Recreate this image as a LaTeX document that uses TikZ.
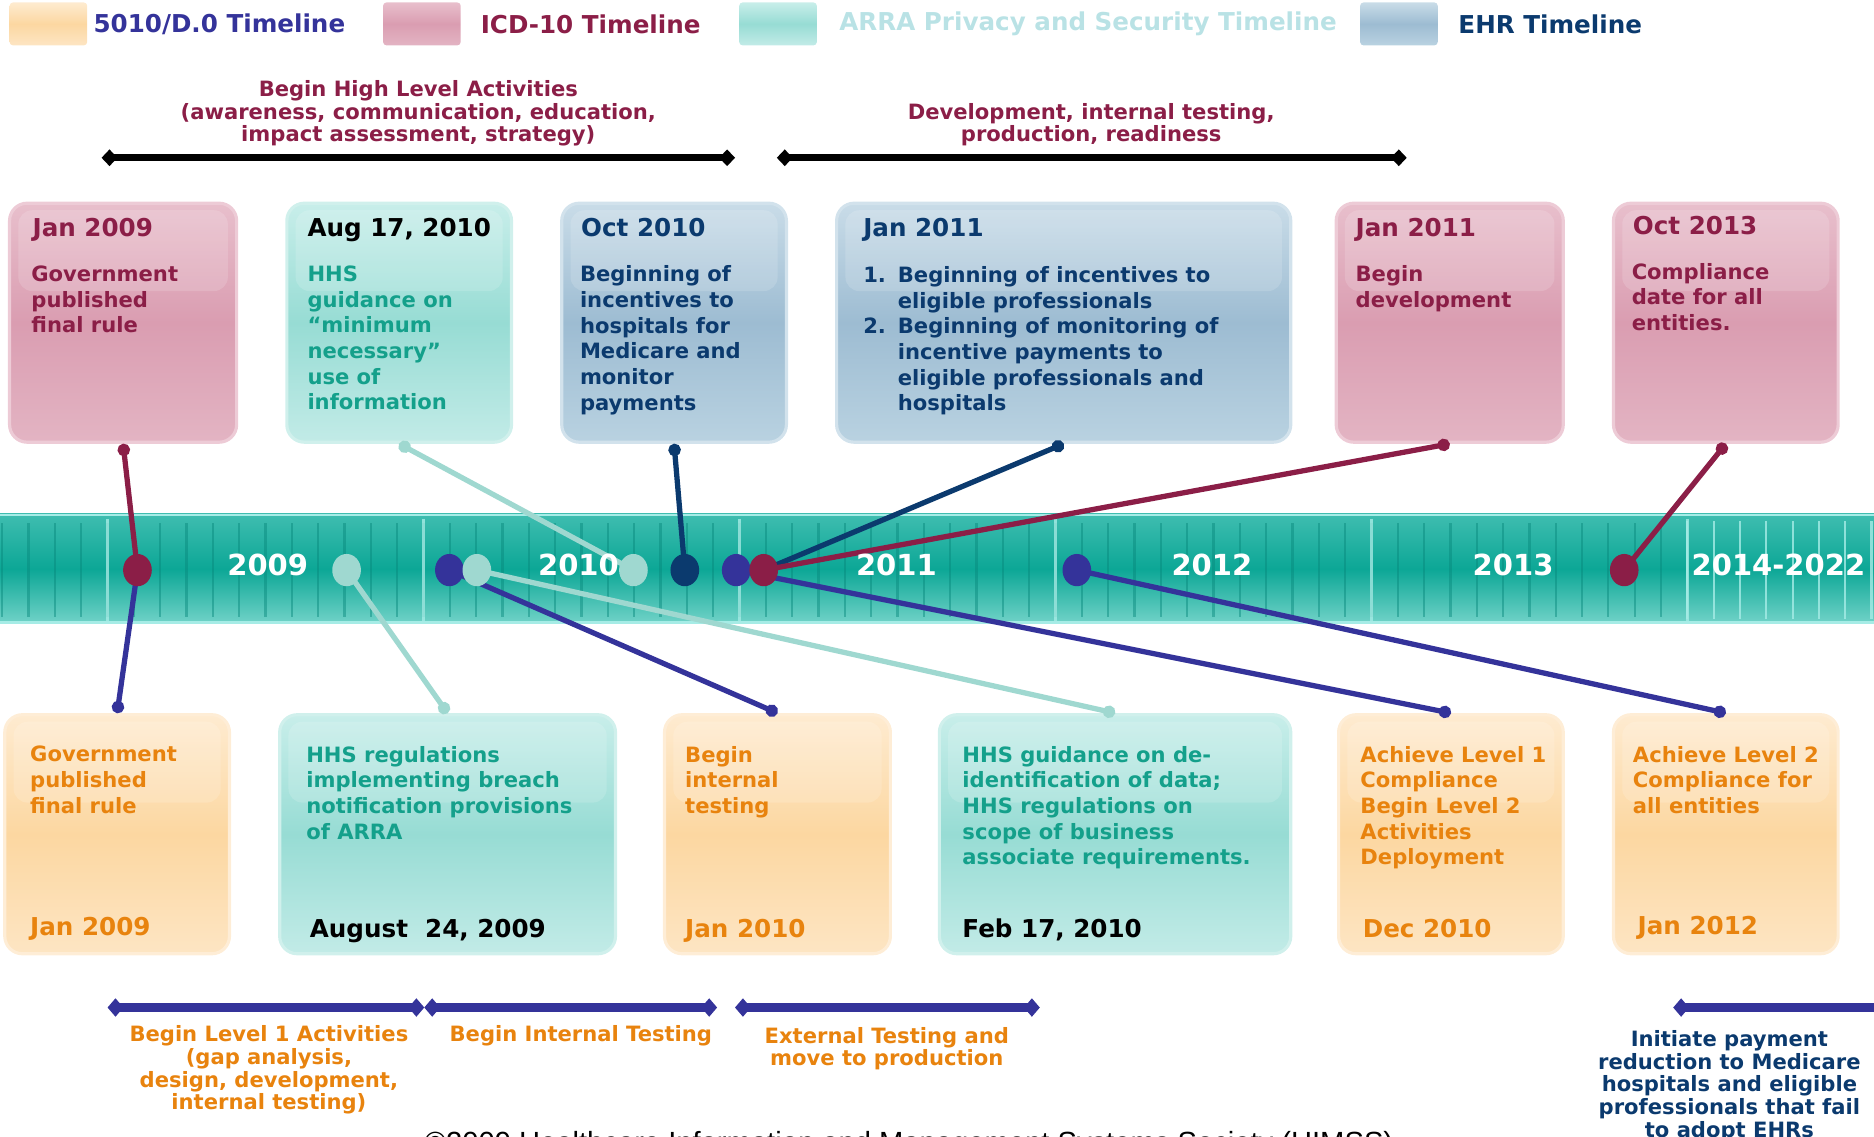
\documentclass[tikz,border=0pt]{standalone}
\usepackage{fontspec}
\setmainfont{DejaVu Sans}
\newfontfamily\notefont{Liberation Sans}
\usetikzlibrary{arrows.meta,shapes.geometric,positioning}

\newcommand{\upx}{0.0239cm}

\definecolor{icdred}{HTML}{8B1E47}
\definecolor{icdtop}{HTML}{E8BFCC}
\definecolor{icdmid}{HTML}{DA9DB1}
\definecolor{icdbot}{HTML}{E3B4C3}
\definecolor{icdedge}{HTML}{EDCBD6}
\definecolor{arrateal}{HTML}{14A08B}
\definecolor{arratop}{HTML}{C8EEEA}
\definecolor{arramid}{HTML}{97DCD4}
\definecolor{arrabot}{HTML}{C2EBE7}
\definecolor{arraedge}{HTML}{D0F0EC}
\definecolor{arradot}{HTML}{9FD8D0}
\definecolor{arralegend}{HTML}{B9E2E5}
\definecolor{ehrnavy}{HTML}{0B3A6E}
\definecolor{ehrtop}{HTML}{C9DCE8}
\definecolor{ehrmid}{HTML}{9DBCD2}
\definecolor{ehrbot}{HTML}{B9D2E1}
\definecolor{ehredge}{HTML}{D2E2EC}
\definecolor{fivblue}{HTML}{34339A}
\definecolor{fivorange}{HTML}{E8830E}
\definecolor{fivtop}{HTML}{FEEBD0}
\definecolor{fivmid}{HTML}{FCD7A1}
\definecolor{fivbot}{HTML}{FDE5C3}
\definecolor{fivedge}{HTML}{FEEDD6}
\definecolor{bartop}{HTML}{3FBDB0}
\definecolor{barmid}{HTML}{0CA796}
\definecolor{barbot}{HTML}{72D3C8}
\definecolor{barline}{HTML}{A6ECE6}
\definecolor{stripedark}{HTML}{07877B}

\pgfdeclarelayer{bg}
\pgfdeclarelayer{lines}
\pgfsetlayers{bg,lines,main}

\tikzset{
  evbox/.style={rectangle, rounded corners=10pt, minimum height=200*\upx, inner sep=0pt, line width=1.8pt,
    path picture={\fill[white,opacity=.15,rounded corners=8pt]
      ([xshift=5pt,yshift=-4pt]path picture bounding box.north west) rectangle
      ([xshift=-5pt,yshift=-50pt]path picture bounding box.north east);}},
  icdfill/.style={top color=icdtop, bottom color=icdbot, middle color=icdmid},
  arrafill/.style={top color=arratop, bottom color=arrabot, middle color=arramid},
  ehrfill/.style={top color=ehrtop, bottom color=ehrbot, middle color=ehrmid},
  fivfill/.style={top color=fivtop, bottom color=fivbot, middle color=fivmid},
  icdbox/.style={evbox, draw=icdedge, icdfill},
  arrabox/.style={evbox, draw=arraedge, arrafill},
  ehrbox/.style={evbox, draw=ehredge, ehrfill},
  fivbox/.style={evbox, draw=fivedge, fivfill},
  swatch/.style={rectangle, rounded corners=2pt, minimum width=65*\upx, minimum height=36*\upx, inner sep=0pt},
  legendtxt/.style={anchor=west, inner sep=0pt, font=\bfseries\fontsize{14}{16}\selectfont},
  datetxt/.style={anchor=base west, inner sep=0pt, font=\bfseries\fontsize{14}{16}\selectfont},
  bodytxt/.style={anchor=north west, align=left, inner sep=0pt, font=\bfseries\fontsize{12}{14.6}\selectfont},
  spantxt/.style={anchor=north, align=center, inner sep=0pt, font=\bfseries\fontsize{12}{12.9}\selectfont},
  yeartxt/.style={inner sep=0pt, text=white, font=\bfseries\fontsize{16.5}{18}\selectfont},
  evdot/.style={ellipse, minimum width=24*\upx, minimum height=27*\upx, inner sep=0pt},
  conn/.style={line width=3pt, {Circle[length=7pt]}-},
  topspan/.style={line width=3.8pt, black, {Diamond[length=9pt,width=9.5pt]}-{Diamond[length=9pt,width=9.5pt]}},
  lowspan/.style={line width=4.6pt, fivblue, {Diamond[length=9pt,width=10.5pt]}-{Diamond[length=9pt,width=10.5pt]}}
}

\begin{document}
\begin{tikzpicture}[x=\upx, y=-\upx]
\useasboundingbox (0,0) rectangle (1568,951);
\clip (0,0) rectangle (1568,951);

\node[swatch, fivfill] (lgfiv) at (40.5,20) {};
\node[legendtxt, fivblue] (lgfivtxt) at (78,20) {5010/D.0 Timeline};
\node[swatch, icdfill] (lgicd) at (353,20) {};
\node[legendtxt, icdred] (lgicdtxt) at (402,20) {ICD-10 Timeline};
\node[swatch, arrafill] (lgarra) at (651,20) {};
\node[legendtxt, arralegend] (lgarratxt) at (702,20) {ARRA Privacy and Security Timeline};
\node[swatch, ehrfill] (lgehr) at (1170.5,20) {};
\node[legendtxt, ehrnavy] (lgehrtxt) at (1220,20) {EHR Timeline};

\node[spantxt, icdred] (hilvl) at (350,67) {Begin High Level Activities\\(awareness, communication, education,\\impact assessment, strategy)};
\coordinate (hilvlL) at (85,132);
\coordinate (hilvlR) at (615,132);
\draw[topspan] (hilvlL) -- (hilvlR);
\node[spantxt, icdred] (devlbl) at (913,86) {Development, internal testing,\\production, readiness};
\coordinate (devL) at (650,132);
\coordinate (devR) at (1177,132);
\draw[topspan] (devL) -- (devR);

\begin{pgfonlayer}{bg}
\fill[top color=bartop, bottom color=barbot, middle color=barmid] (0,430) rectangle (1568,522);
\foreach \k in {-4,...,59}
  \draw[stripedark, opacity=.45, line width=1.3pt] ({90+\k*22.03},438) -- ({90+\k*22.03},516);
\foreach \k in {60,...,67}
  \draw[barline, opacity=.8, line width=1.3pt] ({90+\k*22.03},436) -- ({90+\k*22.03},518);
\foreach \k in {0,...,5}
  \draw[barline, opacity=.8, line width=1.5pt] ({90+\k*264.36},434) -- ({90+\k*264.36},520);
\draw[barline, line width=1.5pt] (0,431) -- (1568,431);
\draw[barline, line width=2pt] (0,521) -- (1568,521);

\node[icdbox, minimum width=190*\upx] (t1) at (103,270) {};
\node[arrabox, minimum width=188*\upx] (t2) at (334,270) {};
\node[ehrbox, minimum width=188*\upx] (t3) at (564,270) {};
\node[ehrbox, minimum width=380*\upx] (t4) at (890,270) {};
\node[icdbox, minimum width=190*\upx] (t5) at (1213,270) {};
\node[icdbox, minimum width=188*\upx] (t6) at (1444,270) {};

\node[fivbox, minimum width=188*\upx] (b1) at (98,698) {};
\node[arrabox, minimum width=281*\upx] (b2) at (374.5,698) {};
\node[fivbox, minimum width=189*\upx] (b3) at (650.5,698) {};
\node[arrabox, minimum width=294*\upx] (b4) at (933,698) {};
\node[fivbox, minimum width=188*\upx] (b5) at (1214,698) {};
\node[fivbox, minimum width=188*\upx] (b6) at (1444,698) {};
\end{pgfonlayer}

\node[datetxt, icdred] (t1date) at (27,198) {Jan 2009};
\node[bodytxt, icdred] (t1body) at (26,222) {Government\\published\\final rule};
\node[datetxt, black] (t2date) at (257,198) {Aug 17, 2010};
\node[bodytxt, arrateal] (t2body) at (257,222) {HHS\\guidance on\\“minimum\\necessary”\\use of\\information};
\node[datetxt, ehrnavy] (t3date) at (486,198) {Oct 2010};
\node[bodytxt, ehrnavy] (t3body) at (485,222) {Beginning of\\incentives to\\hospitals for\\Medicare and\\monitor\\payments};
\node[datetxt, ehrnavy] (t4date) at (722,198) {Jan 2011};
\node[bodytxt, ehrnavy] (t4body) at (722,221) {\begin{tabular}{@{}p{19.7pt}@{}l@{}}1. & Beginning of incentives to\\ & eligible professionals\\2. & Beginning of monitoring of\\ & incentive payments to\\ & eligible professionals and\\ & hospitals\end{tabular}};
\node[datetxt, icdred] (t5date) at (1134,198) {Jan 2011};
\node[bodytxt, icdred] (t5body) at (1134,222) {Begin\\development};
\node[datetxt, icdred] (t6date) at (1366,196) {Oct 2013};
\node[bodytxt, icdred] (t6body) at (1365,220) {Compliance\\date for all\\entities.};

\node[bodytxt, fivorange] (b1body) at (25,624) {Government\\published\\final rule};
\node[datetxt, fivorange] (b1date) at (25,783) {Jan 2009};
\node[bodytxt, arrateal] (b2body) at (256,624) {HHS regulations\\implementing breach\\notification provisions\\of ARRA};
\node[datetxt, black] (b2date) at (259,784) {August\ \ 24, 2009};
\node[bodytxt, fivorange] (b3body) at (573,624) {Begin\\internal\\testing};
\node[datetxt, fivorange] (b3date) at (573,784) {Jan 2010};
\node[bodytxt, arrateal] (b4body) at (805,624) {HHS guidance on de-\\identification of data;\\HHS regulations on\\scope of business\\associate requirements.};
\node[datetxt, black] (b4date) at (805,784) {Feb 17, 2010};
\node[bodytxt, fivorange] (b5body) at (1138,624) {Achieve Level 1\\Compliance\\Begin Level 2\\Activities\\Deployment};
\node[datetxt, fivorange] (b5date) at (1140,784) {Dec 2010};
\node[bodytxt, fivorange] (b6body) at (1366,624) {Achieve Level 2\\Compliance for\\all entities};
\node[datetxt, fivorange] (b6date) at (1370,782) {Jan 2012};

\node[evdot, fill=icdred] (dA) at (115,477) {};
\node[evdot, fill=arradot] (dB) at (290,477) {};
\node[evdot, fill=fivblue] (dC) at (376,477) {};
\node[evdot, fill=arradot] (dD) at (399,477) {};
\node[evdot, fill=arradot] (dE) at (530,477) {};
\node[evdot, fill=ehrnavy] (dF) at (573,477) {};
\node[evdot, fill=fivblue] (dG) at (616,477) {};
\node[evdot, fill=icdred] (dH) at (639,477) {};
\node[evdot, fill=fivblue] (dI) at (901,477) {};
\node[evdot, fill=icdred] (dJ) at (1359,477) {};

\begin{pgfonlayer}{lines}
\draw[conn, icdred] (t1.south) -- (dA.center);
\draw[conn, arradot] (t2.south) -- (dE.center);
\draw[conn, ehrnavy] (t3.south) -- (dF.center);
\draw[conn, ehrnavy] (t4.south) -- (dH.center);
\draw[conn, icdred] (t5.south) -- (dH.center);
\draw[conn, icdred] (t6.south) -- (dJ.center);
\draw[conn, fivblue] (b1.north) -- (dA.center);
\draw[conn, arradot] (b2.north) -- (dB.center);
\draw[conn, fivblue] (b3.north) -- (dC.center);
\draw[conn, arradot] (b4.north) -- (dD.center);
\draw[conn, fivblue] (b5.north) -- (dG.center);
\draw[conn, fivblue] (b6.north) -- (dI.center);
\end{pgfonlayer}

\node[yeartxt] (y2009) at (224,473) {2009};
\node[yeartxt] (y2010) at (484,473) {2010};
\node[yeartxt] (y2011) at (750,473) {2011};
\node[yeartxt] (y2012) at (1014,473) {2012};
\node[yeartxt] (y2013) at (1266,473) {2013};
\node[yeartxt] (y2014) at (1488,473) {2014-2022};

\coordinate (lvl1L) at (90,843);
\coordinate (lvl1R) at (355,843);
\coordinate (intR) at (600,843);
\coordinate (extL) at (615,843);
\coordinate (extR) at (870,843);
\coordinate (payL) at (1400,843);
\coordinate (payR) at (1578,843);
\draw[lowspan] (lvl1L) -- (lvl1R);
\draw[lowspan] (lvl1R) -- (intR);
\draw[lowspan] (extL) -- (extR);
\draw[lowspan] (payL) -- (payR);

\node[spantxt, fivorange] (lvl1) at (225,858) {Begin Level 1 Activities\\(gap analysis,\\design, development,\\internal testing)};
\node[spantxt, fivorange] (inttest) at (486,858) {Begin Internal Testing};
\node[spantxt, fivorange] (exttest) at (742,859) {External Testing and\\move to production};
\node[spantxt, ehrnavy] (payred) at (1447,862) {Initiate payment\\reduction to Medicare\\hospitals and eligible\\professionals that fail\\to adopt EHRs};

\node[anchor=base west, inner sep=0pt, font=\notefont\fontsize{16.6}{18}\selectfont] (copynote) at (355,964) {©2009 Healthcare Information and Management Systems Society (HIMSS)};
\end{tikzpicture}
\end{document}
